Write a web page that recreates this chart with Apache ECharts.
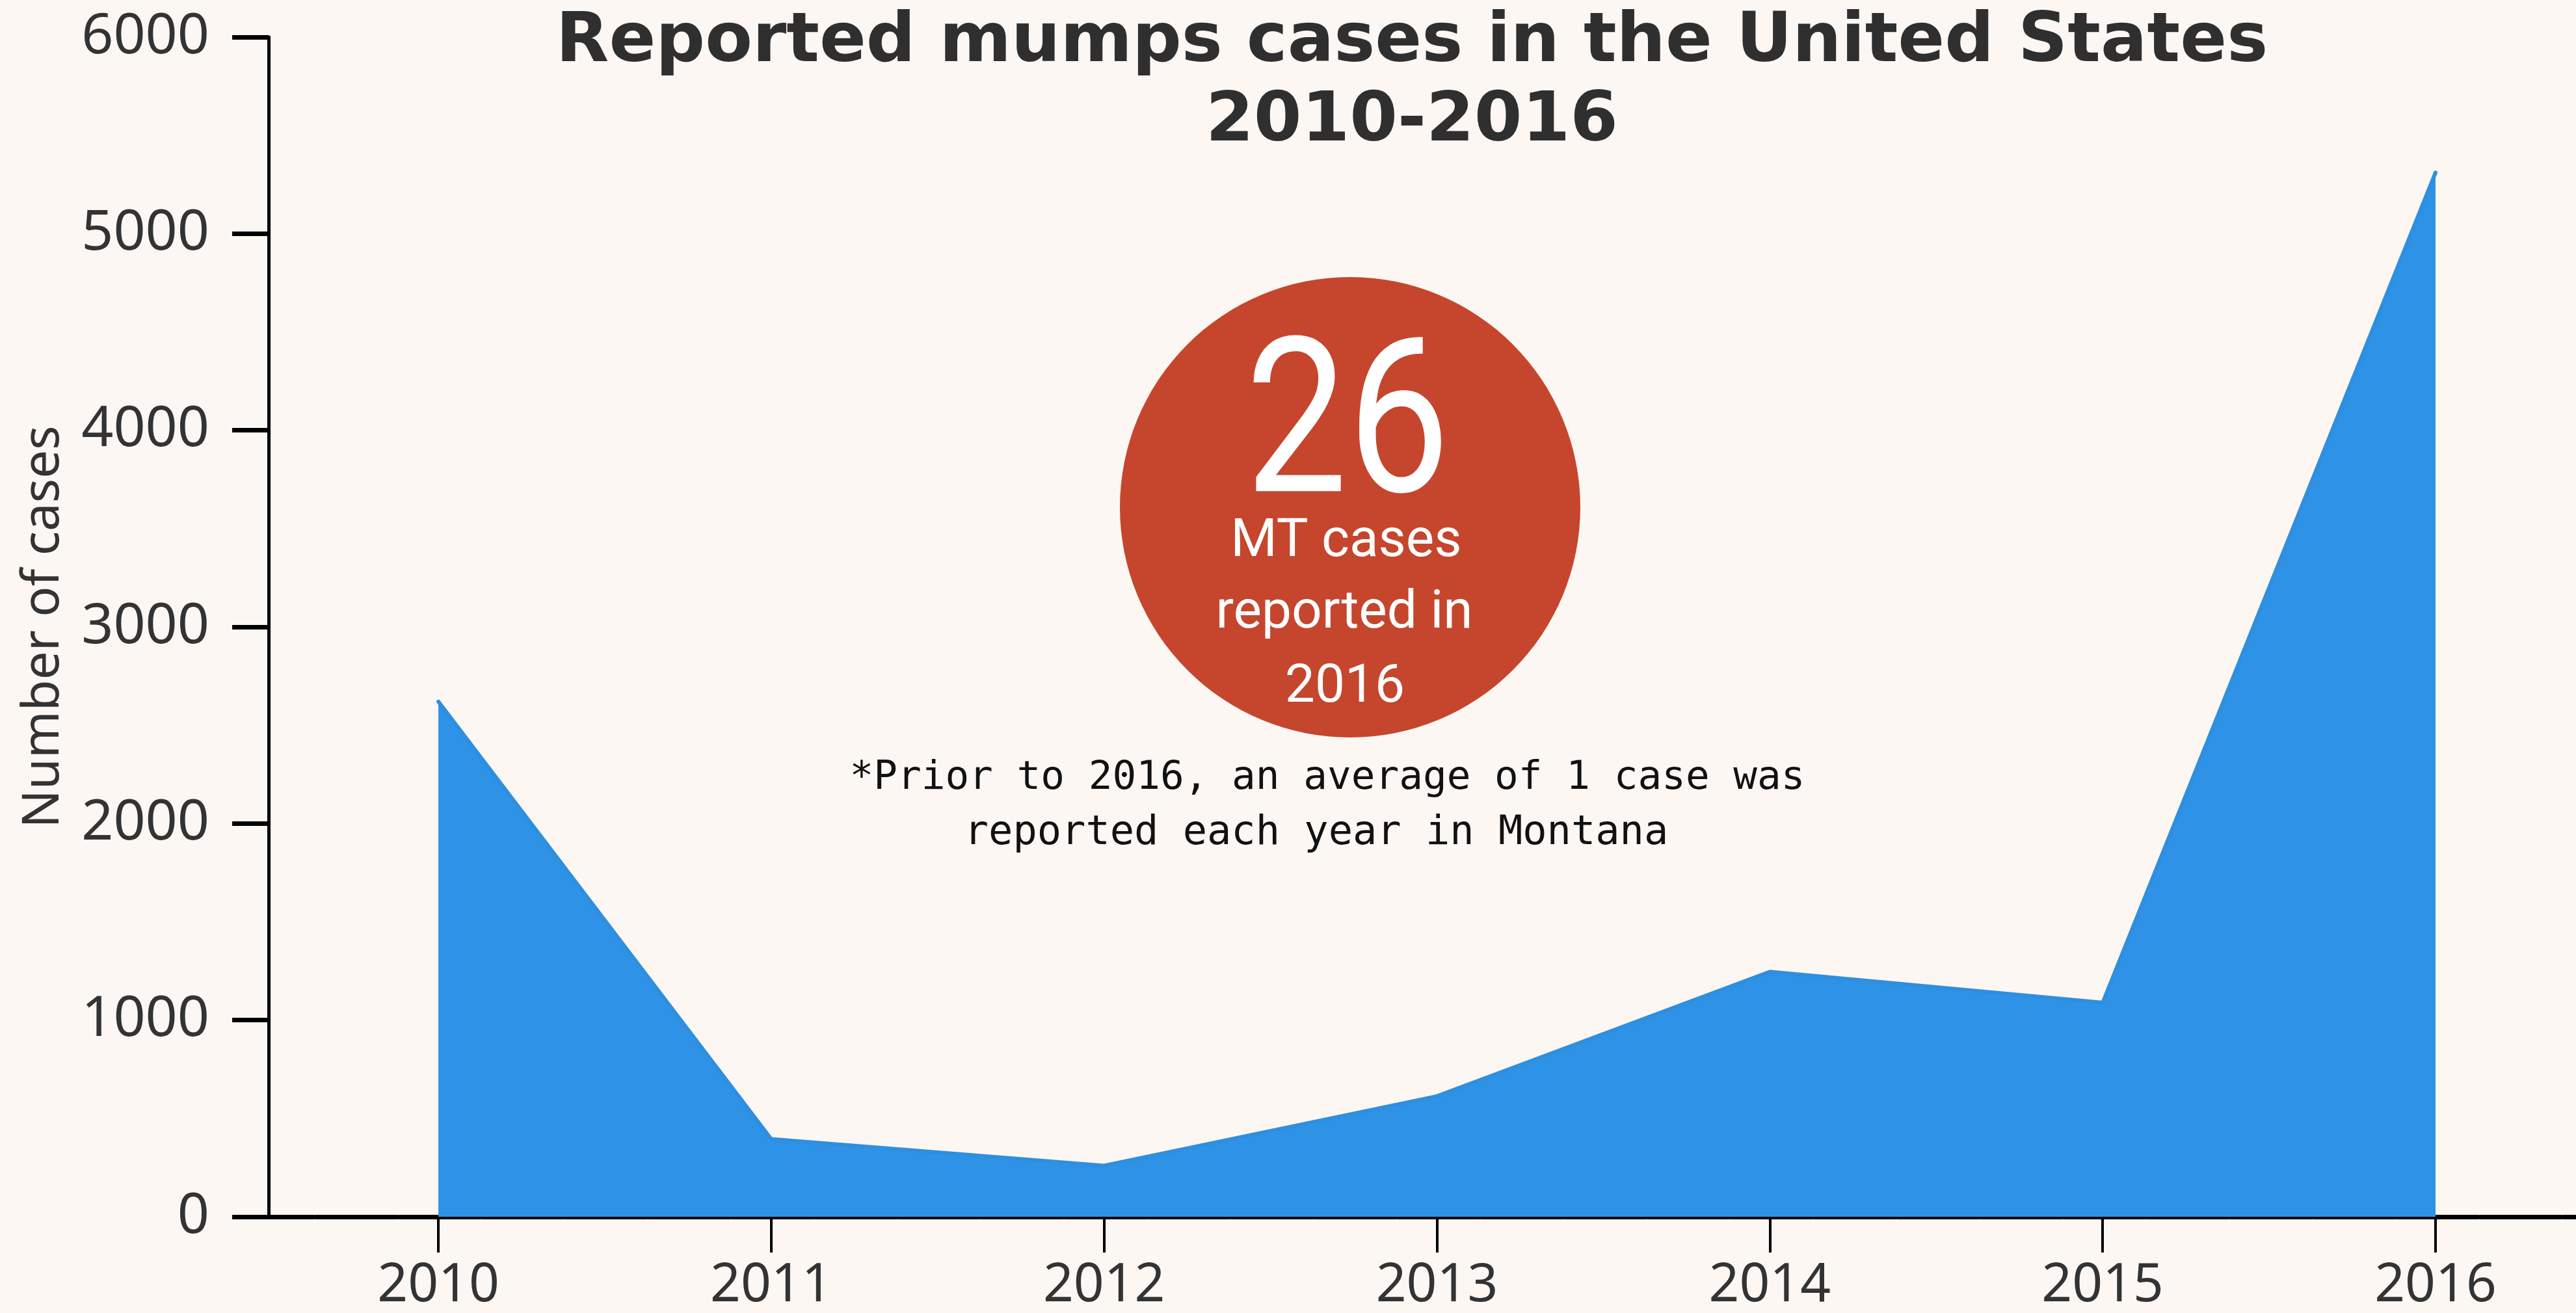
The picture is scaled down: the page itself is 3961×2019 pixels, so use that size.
<!DOCTYPE html>
<html>
<head>
<meta charset="utf-8">
<script src="https://cdn.jsdelivr.net/npm/echarts@6/dist/echarts.min.js"></script>
<style>
html,body{margin:0;padding:0;background:#FDF7F4;overflow:hidden;}
#chart{width:3961px;height:2019px;}
</style>
</head>
<body>
<div id="chart"></div>
<script>
const years = [2010, 2011, 2012, 2013, 2014, 2015, 2016];
const cases = [2620, 395, 260, 613, 1246, 1089, 5311];
const titleLines = ['Reported mumps cases in the United States', '2010-2016'];
const yAxisName = 'Number of cases';
const calloutNumber = '26';
const calloutLines = ['MT cases', 'reported in', '2016'];
const noteLines = ['*Prior to 2016, an average of 1 case was', 'reported each year in Montana'];

const chart = echarts.init(document.getElementById('chart'));
const seriesData = years.map((y, i) => [y, cases[i]]);

chart.setOption({
  backgroundColor: '#FDF7F4',
  animation: false,
  title: {
    text: titleLines.join('\n'),
    left: 2166,
    top: 0,
    textAlign: 'center',
    textStyle: {
      fontFamily: 'DejaVu Sans',
      fontWeight: 'bold',
      fontSize: 106,
      lineHeight: 122,
      color: '#2f2f2f'
    }
  },
  grid: { left: 413, right: 0, top: 57, bottom: 132, containLabel: false },
  xAxis: {
    type: 'value',
    min: 2009.49,
    max: 2016.422,
    splitLine: { show: false },
    axisLine: {
      show: true,
      lineStyle: { color: '#000', width: 7, type: [124, 4], dashOffset: 55 }
    },
    axisTick: {
      show: true,
      customValues: years,
      length: 55,
      lineStyle: { color: '#000', width: 4 }
    },
    axisLabel: {
      customValues: years,
      formatter: v => String(v),
      margin: 66,
      fontFamily: 'Noto Sans',
      fontSize: 82,
      color: '#333'
    }
  },
  yAxis: {
    type: 'value',
    min: 0,
    max: 6000,
    interval: 1000,
    name: yAxisName,
    nameLocation: 'middle',
    nameRotate: 90,
    nameGap: 306,
    nameTextStyle: { fontFamily: 'Noto Sans', fontSize: 78, color: '#333' },
    splitLine: { show: false },
    axisLine: { show: true, lineStyle: { color: '#000', width: 5 } },
    axisTick: { show: true, length: 56, lineStyle: { color: '#000', width: 7 } },
    axisLabel: { margin: 91, formatter: v => String(v), fontFamily: 'Noto Sans', fontSize: 86, color: '#333' }
  },
  series: [{
    type: 'line',
    data: seriesData,
    symbol: 'none',
    lineStyle: { color: '#2F8FDF', width: 6, cap: 'round', join: 'round' },
    areaStyle: { color: '#2E93E6', opacity: 1 },
    z: 1
  }],
  graphic: [
    { type: 'circle', shape: { cx: 2076, cy: 780, r: 354 }, style: { fill: '#C5462D' }, z: 10 },
    { type: 'text', x: 2072, y: 672, scaleX: 0.84, z: 11, style: { text: calloutNumber, fill: '#fff', font: '333px Roboto', textAlign: 'center', textVerticalAlign: 'middle' } },
    { type: 'text', x: 2070, y: 834, z: 11, style: { text: calloutLines[0], fill: '#fff', font: '82px Roboto', textAlign: 'center', textVerticalAlign: 'middle' } },
    { type: 'text', x: 2067, y: 944, z: 11, style: { text: calloutLines[1], fill: '#fff', font: '82px Roboto', textAlign: 'center', textVerticalAlign: 'middle' } },
    { type: 'text', x: 2068, y: 1058, z: 11, style: { text: calloutLines[2], fill: '#fff', font: '82px Roboto', textAlign: 'center', textVerticalAlign: 'middle' } },
    { type: 'text', x: 2041, y: 1197, z: 11, style: { text: noteLines[0], fill: '#111', font: '61px "DejaVu Sans Mono"', textAlign: 'center', textVerticalAlign: 'middle' } },
    { type: 'text', x: 2024, y: 1282, z: 11, style: { text: noteLines[1], fill: '#111', font: '62px "DejaVu Sans Mono"', textAlign: 'center', textVerticalAlign: 'middle' } }
  ]
});
</script>
</body>
</html>
